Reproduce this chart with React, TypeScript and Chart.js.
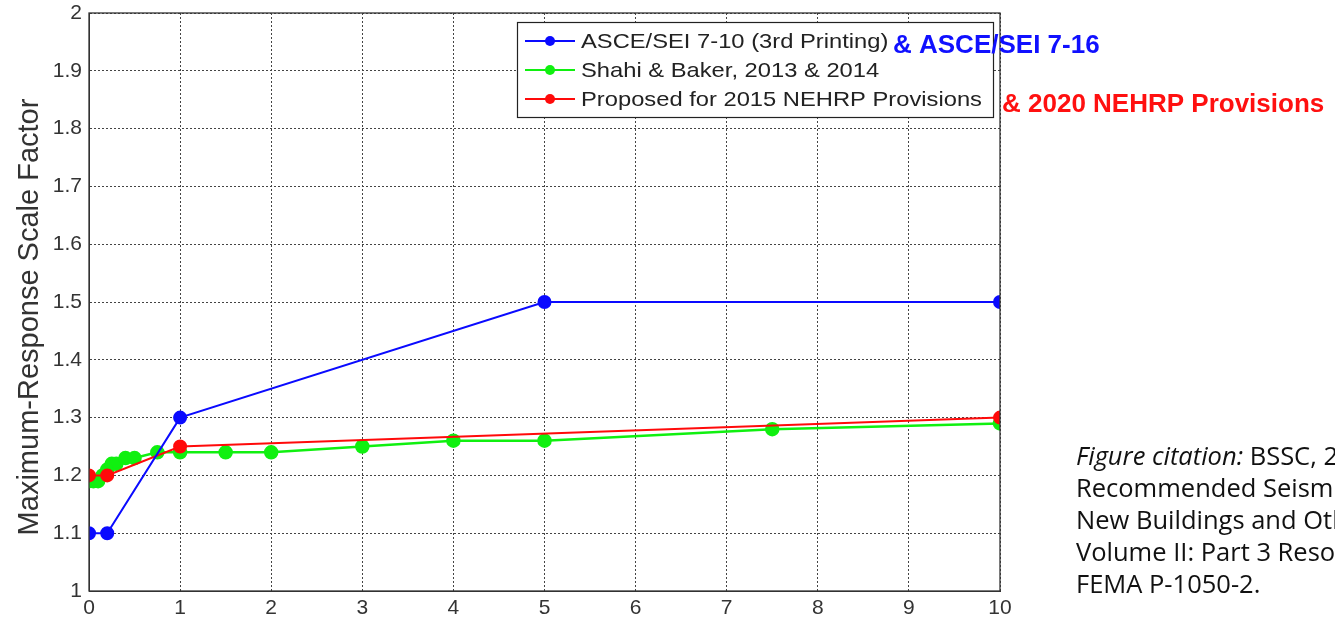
import React, { useEffect, useRef } from "react";
import { Chart, registerables } from "chart.js";

Chart.register(...registerables);

const asceX = [0, 0.2, 1, 5, 10];
const asceY = [1.1, 1.1, 1.3, 1.5, 1.5];
const shahiX = [0, 0.05, 0.1, 0.15, 0.2, 0.25, 0.3, 0.4, 0.5, 0.75, 1, 1.5, 2, 3, 4, 5, 7.5, 10];
const shahiY = [1.19, 1.19, 1.19, 1.2, 1.21, 1.22, 1.22, 1.23, 1.23, 1.24, 1.24, 1.24, 1.24, 1.25, 1.26, 1.26, 1.28, 1.29];
const nehrpX = [0, 0.2, 1, 10];
const nehrpY = [1.2, 1.2, 1.25, 1.3];

const seriesLabels = [
  "ASCE/SEI 7-10 (3rd Printing)",
  "Shahi & Baker, 2013 & 2014",
  "Proposed for 2015 NEHRP Provisions",
];
const seriesColors = ["#0a0aff", "#10f010", "#ff0a0a"];
const extraLabels = ["& ASCE/SEI 7-16", "& 2020 NEHRP Provisions"];
const yTitle = "Maximum-Response Scale Factor";
const citationLines = [
  "Recommended Seismic Provisions for",
  "New Buildings and Other Structures,",
  "Volume II: Part 3 Resource Papers,",
  "FEMA P-1050-2.",
];

const toPoints = (xs: number[], ys: number[]) => xs.map((x, i) => ({ x, y: ys[i] }));

const FONT = "'Liberation Sans', Arial, sans-serif";

const frameAndLegend = {
  id: "frameAndLegend",
  afterDraw(chart: any) {
    const { ctx, chartArea } = chart;
    ctx.save();
    // frame
    ctx.strokeStyle = "#333";
    ctx.lineWidth = 1.3;
    ctx.setLineDash([]);
    ctx.strokeRect(chartArea.left, chartArea.top, chartArea.right - chartArea.left, chartArea.bottom - chartArea.top);

    // y title
    ctx.save();
    ctx.translate(30, 317);
    ctx.rotate(-Math.PI / 2);
    ctx.font = `29px ${FONT}`;
    ctx.fillStyle = "#333";
    ctx.textAlign = "center";
    ctx.textBaseline = "middle";
    ctx.fillText(yTitle, 0, 0);
    ctx.restore();

    // legend box
    const bx = 517, by = 22, bw = 476, bh = 95;
    ctx.fillStyle = "#fff";
    ctx.fillRect(bx, by, bw, bh);
    ctx.strokeStyle = "#222";
    ctx.lineWidth = 1.2;
    ctx.strokeRect(bx + 0.5, by + 0.5, bw, bh);
    const rows = [41, 70, 99];
    ctx.textBaseline = "middle";
    ctx.textAlign = "left";
    rows.forEach((ry, i) => {
      ctx.strokeStyle = seriesColors[i];
      ctx.lineWidth = 2;
      ctx.beginPath();
      ctx.moveTo(525, ry);
      ctx.lineTo(575, ry);
      ctx.stroke();
      ctx.fillStyle = seriesColors[i];
      ctx.beginPath();
      ctx.arc(550, ry, 5, 0, Math.PI * 2);
      ctx.fill();
      ctx.save();
      ctx.translate(581, ry + 1);
      ctx.scale(1.13, 1);
      ctx.font = `21px ${FONT}`;
      ctx.fillStyle = "#222";
      ctx.fillText(seriesLabels[i], 0, 0);
      ctx.restore();
    });
    // extra notes
    ctx.font = `bold 26px ${FONT}`;
    ctx.fillStyle = "#1010ff";
    ctx.fillText(extraLabels[0], 893, 46);
    ctx.fillStyle = "#ff1010";
    ctx.fillText(extraLabels[1], 1002, 105);
    ctx.restore();
  },
};

export default function App() {
  const ref = useRef<HTMLCanvasElement>(null);
  useEffect(() => {
    if (!ref.current) return;
    const chart = new Chart(ref.current, {
      type: "scatter",
      data: {
        datasets: [
          {
            label: seriesLabels[0],
            data: toPoints(asceX, asceY),
            showLine: true,
            borderColor: seriesColors[0],
            backgroundColor: seriesColors[0],
            borderWidth: 2,
            pointRadius: 6,
            pointHoverRadius: 6,
            order: 0,
          },
          {
            label: seriesLabels[1],
            data: toPoints(shahiX, shahiY),
            showLine: true,
            borderColor: seriesColors[1],
            backgroundColor: seriesColors[1],
            borderWidth: 2.5,
            pointRadius: 6,
            pointHoverRadius: 6,
            order: 2,
          },
          {
            label: seriesLabels[2],
            data: toPoints(nehrpX, nehrpY),
            showLine: true,
            borderColor: seriesColors[2],
            backgroundColor: seriesColors[2],
            borderWidth: 2,
            pointRadius: 6,
            pointHoverRadius: 6,
            order: 1,
          },
        ],
      },
      options: {
        animation: false,
        responsive: false,
        layout: { padding: { top: 13, right: 335, left: 0, bottom: 0 } },
        plugins: { legend: { display: false }, tooltip: { enabled: false } },
        scales: {
          x: {
            type: "linear",
            min: 0,
            max: 10,
            ticks: { stepSize: 1, color: "#333", font: { size: 21, family: FONT }, padding: 5 },
            grid: { color: "#444", lineWidth: 1, drawTicks: false },
            border: { display: true, color: "#333", dash: [2, 2] },
            afterFit: (s: any) => { s.height = 29; s.paddingLeft = 0; s.paddingRight = 0; },
          },
          y: {
            type: "linear",
            min: 1,
            max: 2,
            ticks: {
              stepSize: 0.1,
              color: "#333",
              font: { size: 21, family: FONT },
              padding: 7,
              callback: (v: any) => String(Math.round(Number(v) * 10) / 10),
            },
            grid: { color: "#444", lineWidth: 1, drawTicks: false },
            border: { display: true, color: "#333", dash: [2, 2] },
            afterFit: (s: any) => { s.width = 89; s.paddingTop = 0; s.paddingBottom = 0; },
          },
        },
      },
      plugins: [frameAndLegend],
    } as any);
    return () => chart.destroy();
  }, []);

  return (
    <div style={{ position: "fixed", left: 0, top: 0, width: 1335, height: 620, overflow: "hidden", background: "#fff" }}>
      <canvas ref={ref} width={1335} height={620} style={{ width: 1335, height: 620, display: "block" }} />
      <div
        style={{
          position: "absolute",
          left: 1076,
          top: 439,
          whiteSpace: "nowrap",
          fontFamily: "'Open Sans', sans-serif",
          fontSize: 25.5,
          lineHeight: "32px",
          color: "#111",
        }}
      >
        <div><i>Figure citation:</i> BSSC, 2015. NEHRP</div>
        {citationLines.map((l) => (
          <div key={l}>{l}</div>
        ))}
      </div>
    </div>
  );
}
